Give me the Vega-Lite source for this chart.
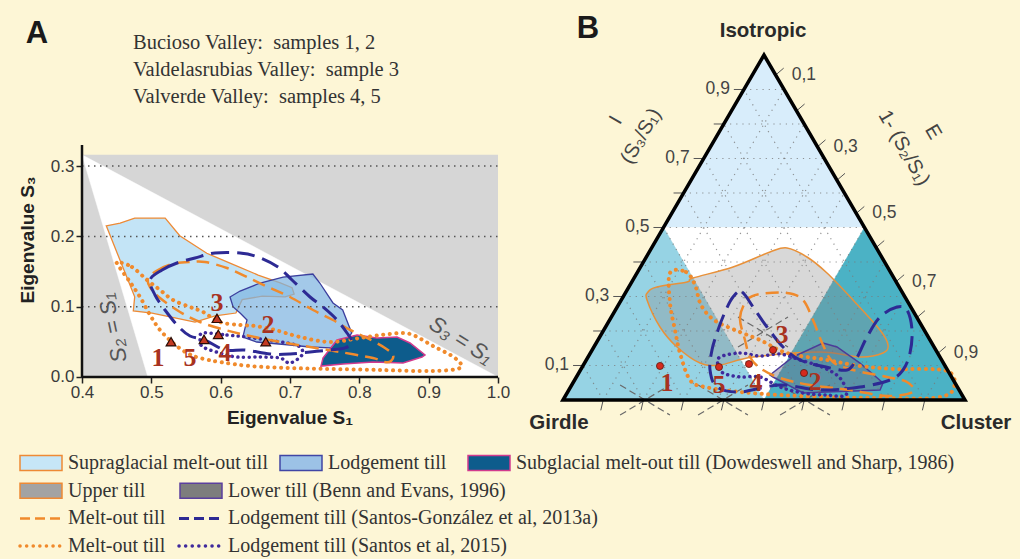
{
"$schema":"https://vega.github.io/schema/vega-lite/v6.json",
"width":1020,"height":559,
"autosize":{"type":"fit","contains":"padding"},
"padding":0,
"background":"#fdf6d6",
"config":{"view":{"stroke":null},"text":{"font":"Liberation Sans"},
 "axis":{"domain":false,"grid":false,"ticks":true,"tickSize":6,"tickWidth":1.5,"tickColor":"#222222","labelFont":"Liberation Sans","labelFontSize":17,"labelColor":"#3a3a3a","labelFlush":false,"labelOverlap":false,"title":null}},
"datasets":{
"aWhite":[{"i":0,"x":0.4,"y":0.316},{"i":1,"x":0.495,"y":0},{"i":2,"x":1.0,"y":0}],
"aSupra":[{"i":0,"x":0.435,"y":0.215},{"i":1,"x":0.455,"y":0.219},{"i":2,"x":0.476,"y":0.226},{"i":3,"x":0.52,"y":0.226},{"i":4,"x":0.541,"y":0.201},{"i":5,"x":0.58,"y":0.176},{"i":6,"x":0.616,"y":0.161},{"i":7,"x":0.654,"y":0.145},{"i":8,"x":0.686,"y":0.134},{"i":9,"x":0.703,"y":0.127},{"i":10,"x":0.706,"y":0.118},{"i":11,"x":0.693,"y":0.114},{"i":12,"x":0.66,"y":0.115},{"i":13,"x":0.631,"y":0.11},{"i":14,"x":0.622,"y":0.091},{"i":15,"x":0.592,"y":0.087},{"i":16,"x":0.563,"y":0.078},{"i":17,"x":0.534,"y":0.084},{"i":18,"x":0.501,"y":0.091},{"i":19,"x":0.474,"y":0.094},{"i":20,"x":0.476,"y":0.114}],
"aLodg":[{"i":0,"x":0.6135,"y":0.1138},{"i":1,"x":0.628,"y":0.1223},{"i":2,"x":0.657,"y":0.1337},{"i":3,"x":0.69,"y":0.1422},{"i":4,"x":0.733,"y":0.1465},{"i":5,"x":0.743,"y":0.1337},{"i":6,"x":0.762,"y":0.1053},{"i":7,"x":0.776,"y":0.0953},{"i":8,"x":0.789,"y":0.0626},{"i":9,"x":0.782,"y":0.0526},{"i":10,"x":0.758,"y":0.0413},{"i":11,"x":0.729,"y":0.0427},{"i":12,"x":0.7,"y":0.0455},{"i":13,"x":0.652,"y":0.0498},{"i":14,"x":0.632,"y":0.0569},{"i":15,"x":0.638,"y":0.0811},{"i":16,"x":0.628,"y":0.091},{"i":17,"x":0.618,"y":0.0996}],
"aSubg":[{"i":0,"x":0.7476,"y":0.027},{"i":1,"x":0.7678,"y":0.0526},{"i":2,"x":0.7967,"y":0.0597},{"i":3,"x":0.8255,"y":0.0555},{"i":4,"x":0.8544,"y":0.0569},{"i":5,"x":0.8731,"y":0.0484},{"i":6,"x":0.8947,"y":0.0313},{"i":7,"x":0.8904,"y":0.0284},{"i":8,"x":0.863,"y":0.0199},{"i":9,"x":0.8197,"y":0.0213},{"i":10,"x":0.7765,"y":0.0185},{"i":11,"x":0.7447,"y":0.0156}],
"aMeltDash":[{"i":0,"x":0.4952,"y":0.1408},{"i":1,"x":0.5096,"y":0.1522},{"i":2,"x":0.5298,"y":0.1607},{"i":3,"x":0.5558,"y":0.1636},{"i":4,"x":0.5774,"y":0.1636},{"i":5,"x":0.6091,"y":0.155},{"i":6,"x":0.638,"y":0.1422},{"i":7,"x":0.6683,"y":0.128},{"i":8,"x":0.7,"y":0.1138},{"i":9,"x":0.7332,"y":0.0953},{"i":10,"x":0.762,"y":0.0811},{"i":11,"x":0.7866,"y":0.0669},{"i":12,"x":0.8111,"y":0.0555},{"i":13,"x":0.837,"y":0.0413},{"i":14,"x":0.8486,"y":0.0313},{"i":15,"x":0.8457,"y":0.0228},{"i":16,"x":0.837,"y":0.0213},{"i":17,"x":0.8197,"y":0.027},{"i":18,"x":0.7721,"y":0.0356},{"i":19,"x":0.7289,"y":0.0427},{"i":20,"x":0.6856,"y":0.0498},{"i":21,"x":0.6423,"y":0.0583},{"i":22,"x":0.6063,"y":0.0669},{"i":23,"x":0.5702,"y":0.0782},{"i":24,"x":0.5414,"y":0.0925},{"i":25,"x":0.5125,"y":0.1124},{"i":26,"x":0.4981,"y":0.128}],
"aLodgDash":[{"i":0,"x":0.4981,"y":0.138},{"i":1,"x":0.5154,"y":0.1522},{"i":2,"x":0.537,"y":0.1622},{"i":3,"x":0.563,"y":0.1693},{"i":4,"x":0.5918,"y":0.1764},{"i":5,"x":0.6279,"y":0.1764},{"i":6,"x":0.6539,"y":0.1707},{"i":7,"x":0.6827,"y":0.1565},{"i":8,"x":0.7029,"y":0.138},{"i":9,"x":0.7289,"y":0.1138},{"i":10,"x":0.7476,"y":0.0996},{"i":11,"x":0.7678,"y":0.0811},{"i":12,"x":0.7822,"y":0.0626},{"i":13,"x":0.7894,"y":0.0498},{"i":14,"x":0.7793,"y":0.0413},{"i":15,"x":0.7577,"y":0.0384},{"i":16,"x":0.7289,"y":0.0356},{"i":17,"x":0.7,"y":0.0327},{"i":18,"x":0.6712,"y":0.0327},{"i":19,"x":0.6351,"y":0.0384},{"i":20,"x":0.6063,"y":0.0384},{"i":21,"x":0.5774,"y":0.0526},{"i":22,"x":0.5558,"y":0.0583},{"i":23,"x":0.5385,"y":0.0725},{"i":24,"x":0.5197,"y":0.0953},{"i":25,"x":0.5053,"y":0.1166}],
"aMeltDot":[{"i":0,"x":0.4519,"y":0.1636},{"i":1,"x":0.4721,"y":0.1565},{"i":2,"x":0.4938,"y":0.138},{"i":3,"x":0.5125,"y":0.1238},{"i":4,"x":0.5313,"y":0.1095},{"i":5,"x":0.5558,"y":0.0996},{"i":6,"x":0.5745,"y":0.0925},{"i":7,"x":0.599,"y":0.0782},{"i":8,"x":0.6279,"y":0.074},{"i":9,"x":0.6495,"y":0.0725},{"i":10,"x":0.6784,"y":0.0669},{"i":11,"x":0.7144,"y":0.0569},{"i":12,"x":0.7577,"y":0.0498},{"i":13,"x":0.801,"y":0.0555},{"i":14,"x":0.8442,"y":0.0612},{"i":15,"x":0.8731,"y":0.0612},{"i":16,"x":0.9063,"y":0.0441},{"i":17,"x":0.938,"y":0.027},{"i":18,"x":0.9452,"y":0.0128},{"i":19,"x":0.9019,"y":0.0085},{"i":20,"x":0.8298,"y":0.01},{"i":21,"x":0.7577,"y":0.0114},{"i":22,"x":0.7,"y":0.0128},{"i":23,"x":0.6423,"y":0.0156},{"i":24,"x":0.599,"y":0.0213},{"i":25,"x":0.5702,"y":0.027},{"i":26,"x":0.5514,"y":0.0341},{"i":27,"x":0.5313,"y":0.0484},{"i":28,"x":0.5125,"y":0.0669},{"i":29,"x":0.4981,"y":0.0882},{"i":30,"x":0.4837,"y":0.1138},{"i":31,"x":0.4692,"y":0.1351},{"i":32,"x":0.4519,"y":0.1593}],
"aLodgDot":[{"i":0,"x":0.5745,"y":0.0626},{"i":1,"x":0.6091,"y":0.0597},{"i":2,"x":0.638,"y":0.0569},{"i":3,"x":0.6668,"y":0.0526},{"i":4,"x":0.6957,"y":0.0484},{"i":5,"x":0.7144,"y":0.0427},{"i":6,"x":0.7173,"y":0.0313},{"i":7,"x":0.7,"y":0.0199},{"i":8,"x":0.6856,"y":0.027},{"i":9,"x":0.6567,"y":0.0284},{"i":10,"x":0.6236,"y":0.0284},{"i":11,"x":0.599,"y":0.0341},{"i":12,"x":0.5745,"y":0.0427},{"i":13,"x":0.5702,"y":0.0526}],
"aSamples":[{"n":"1","x":0.5284,"y":0.0502},{"n":"2","x":0.665,"y":0.0502},{"n":"3","x":0.5947,"y":0.0835},{"n":"4","x":0.5966,"y":0.0607},{"n":"5","x":0.576,"y":0.0536}],
"aSampleLabels":[{"n":"1","x":0.5096,"y":0.027},{"n":"2","x":0.6683,"y":0.074},{"n":"3","x":0.5947,"y":0.105},{"n":"4","x":0.6063,"y":0.034},{"n":"5","x":0.5558,"y":0.027}],
"bTop":[{"i":0,"x":0.5,"y":1},{"i":1,"x":0.25,"y":0.5},{"i":2,"x":0.75,"y":0.5}],
"bWhite":[{"i":0,"x":0.25,"y":0.5},{"i":1,"x":0.75,"y":0.5},{"i":2,"x":0.5,"y":0}],
"bLeft":[{"i":0,"x":0,"y":0},{"i":1,"x":0.25,"y":0.5},{"i":2,"x":0.5,"y":0}],
"bRight":[{"i":0,"x":0.5,"y":0},{"i":1,"x":0.75,"y":0.5},{"i":2,"x":1,"y":0}],
"bOutline":[{"i":0,"x":0,"y":0},{"i":1,"x":0.5,"y":1},{"i":2,"x":1,"y":0}],
"bGrid":[{"x":0.05,"y":0.1,"x2":0.95,"y2":0.1},{"x":0.1,"y":0.2,"x2":0.9,"y2":0.2},{"x":0.15,"y":0.3,"x2":0.85,"y2":0.3},{"x":0.2,"y":0.4,"x2":0.8,"y2":0.4},{"x":0.25,"y":0.5,"x2":0.75,"y2":0.5},{"x":0.3,"y":0.6,"x2":0.7,"y2":0.6},{"x":0.35,"y":0.7,"x2":0.65,"y2":0.7},{"x":0.4,"y":0.8,"x2":0.6,"y2":0.8},{"x":0.45,"y":0.9,"x2":0.55,"y2":0.9},
{"x":0.1,"y":0,"x2":0.55,"y2":0.9},{"x":0.2,"y":0,"x2":0.6,"y2":0.8},{"x":0.3,"y":0,"x2":0.65,"y2":0.7},{"x":0.4,"y":0,"x2":0.7,"y2":0.6},{"x":0.5,"y":0,"x2":0.75,"y2":0.5},{"x":0.6,"y":0,"x2":0.8,"y2":0.4},{"x":0.7,"y":0,"x2":0.85,"y2":0.3},{"x":0.8,"y":0,"x2":0.9,"y2":0.2},{"x":0.9,"y":0,"x2":0.95,"y2":0.1},
{"x":0.1,"y":0,"x2":0.05,"y2":0.1},{"x":0.2,"y":0,"x2":0.1,"y2":0.2},{"x":0.3,"y":0,"x2":0.15,"y2":0.3},{"x":0.4,"y":0,"x2":0.2,"y2":0.4},{"x":0.5,"y":0,"x2":0.25,"y2":0.5},{"x":0.6,"y":0,"x2":0.3,"y2":0.6},{"x":0.7,"y":0,"x2":0.35,"y2":0.7},{"x":0.8,"y":0,"x2":0.4,"y2":0.8},{"x":0.9,"y":0,"x2":0.45,"y2":0.9}],
"bTicks":[{"x":0.025,"y":0.1,"x2":0.05,"y2":0.1},{"x":0.075,"y":0.2,"x2":0.1,"y2":0.2},{"x":0.125,"y":0.3,"x2":0.15,"y2":0.3},{"x":0.175,"y":0.4,"x2":0.2,"y2":0.4},{"x":0.225,"y":0.5,"x2":0.25,"y2":0.5},{"x":0.275,"y":0.6,"x2":0.3,"y2":0.6},{"x":0.325,"y":0.7,"x2":0.35,"y2":0.7},{"x":0.375,"y":0.8,"x2":0.4,"y2":0.8},{"x":0.425,"y":0.9,"x2":0.45,"y2":0.9},
{"x":0.529,"y":0.942,"x2":0.549,"y2":0.962},{"x":0.581,"y":0.838,"x2":0.601,"y2":0.858},{"x":0.633,"y":0.734,"x2":0.653,"y2":0.754},{"x":0.6815,"y":0.637,"x2":0.7015,"y2":0.657},{"x":0.7295,"y":0.541,"x2":0.7495,"y2":0.561},{"x":0.779,"y":0.442,"x2":0.799,"y2":0.462},{"x":0.8285,"y":0.343,"x2":0.8485,"y2":0.363},{"x":0.8805,"y":0.239,"x2":0.9005,"y2":0.259},{"x":0.9325,"y":0.135,"x2":0.9525,"y2":0.155},
{"x":0.1,"y":0,"x2":0.094,"y2":-0.03},{"x":0.2,"y":0,"x2":0.194,"y2":-0.03},{"x":0.3,"y":0,"x2":0.294,"y2":-0.03},{"x":0.4,"y":0,"x2":0.394,"y2":-0.03},{"x":0.5,"y":0,"x2":0.494,"y2":-0.03},{"x":0.6,"y":0,"x2":0.594,"y2":-0.03},{"x":0.7,"y":0,"x2":0.694,"y2":-0.03},{"x":0.8,"y":0,"x2":0.794,"y2":-0.03},{"x":0.9,"y":0,"x2":0.894,"y2":-0.03}],
"bUpper":[{"i":0,"x":0.2114,"y":0.313},{"i":1,"x":0.2338,"y":0.3275},{"i":2,"x":0.3085,"y":0.342},{"i":3,"x":0.3234,"y":0.3536},{"i":4,"x":0.4229,"y":0.3855},{"i":5,"x":0.5149,"y":0.429},{"i":6,"x":0.5572,"y":0.4406},{"i":7,"x":0.607,"y":0.4145},{"i":8,"x":0.6567,"y":0.3681},{"i":9,"x":0.7214,"y":0.2899},{"i":10,"x":0.7886,"y":0.2029},{"i":11,"x":0.8085,"y":0.1594},{"i":12,"x":0.796,"y":0.1362},{"i":13,"x":0.7388,"y":0.1246},{"i":14,"x":0.6393,"y":0.1391},{"i":15,"x":0.4726,"y":0.1246},{"i":16,"x":0.3905,"y":0.1014},{"i":17,"x":0.3408,"y":0.1072},{"i":18,"x":0.2836,"y":0.1536},{"i":19,"x":0.2413,"y":0.2116},{"i":20,"x":0.209,"y":0.2899}],
"bLower":[{"i":0,"x":0.5149,"y":0.0725},{"i":1,"x":0.5721,"y":0.1246},{"i":2,"x":0.6468,"y":0.1652},{"i":3,"x":0.6816,"y":0.1536},{"i":4,"x":0.7388,"y":0.1072},{"i":5,"x":0.796,"y":0.0493},{"i":6,"x":0.7886,"y":0.029},{"i":7,"x":0.6567,"y":0.0232},{"i":8,"x":0.597,"y":0.0203},{"i":9,"x":0.5224,"y":0.0667}],
"bMeltDash":[{"i":0,"x":0.4527,"y":0.1739},{"i":1,"x":0.4403,"y":0.2377},{"i":2,"x":0.4577,"y":0.2899},{"i":3,"x":0.49,"y":0.3072},{"i":4,"x":0.5572,"y":0.3101},{"i":5,"x":0.597,"y":0.2899},{"i":6,"x":0.6219,"y":0.2319},{"i":7,"x":0.6468,"y":0.1594},{"i":8,"x":0.6716,"y":0.1101},{"i":9,"x":0.7214,"y":0.087},{"i":10,"x":0.806,"y":0.0667},{"i":11,"x":0.8557,"y":0.0522},{"i":12,"x":0.8706,"y":0.0232},{"i":13,"x":0.806,"y":0.0116},{"i":14,"x":0.7139,"y":0.029},{"i":15,"x":0.6144,"y":0.0435},{"i":16,"x":0.5398,"y":0.0638},{"i":17,"x":0.49,"y":0.0928},{"i":18,"x":0.4652,"y":0.1246}],
"bLodgDash":[{"i":0,"x":0.4229,"y":0.2986},{"i":1,"x":0.4453,"y":0.313},{"i":2,"x":0.4776,"y":0.2609},{"i":3,"x":0.5075,"y":0.2116},{"i":4,"x":0.5473,"y":0.1536},{"i":5,"x":0.5896,"y":0.1159},{"i":6,"x":0.6542,"y":0.0957},{"i":7,"x":0.7065,"y":0.087},{"i":8,"x":0.73,"y":0.12},{"i":9,"x":0.7562,"y":0.1826},{"i":10,"x":0.7886,"y":0.2406},{"i":11,"x":0.8308,"y":0.2696},{"i":12,"x":0.8557,"y":0.2609},{"i":13,"x":0.8682,"y":0.2029},{"i":14,"x":0.8632,"y":0.1362},{"i":15,"x":0.8458,"y":0.087},{"i":16,"x":0.8134,"y":0.058},{"i":17,"x":0.7388,"y":0.0377},{"i":18,"x":0.6393,"y":0.029},{"i":19,"x":0.5398,"y":0.0435},{"i":20,"x":0.4403,"y":0.0232},{"i":21,"x":0.3831,"y":0.0377},{"i":22,"x":0.3657,"y":0.087},{"i":23,"x":0.3706,"y":0.1449},{"i":24,"x":0.3856,"y":0.2029},{"i":25,"x":0.403,"y":0.2551}],
"bMeltDot":[{"i":0,"x":0.2662,"y":0.3681},{"i":1,"x":0.306,"y":0.371},{"i":2,"x":0.3284,"y":0.3333},{"i":3,"x":0.3433,"y":0.2754},{"i":4,"x":0.3756,"y":0.2319},{"i":5,"x":0.4279,"y":0.2029},{"i":6,"x":0.49,"y":0.1739},{"i":7,"x":0.5572,"y":0.1362},{"i":8,"x":0.6567,"y":0.1159},{"i":9,"x":0.7388,"y":0.0986},{"i":10,"x":0.8209,"y":0.0899},{"i":11,"x":0.9552,"y":0.0841},{"i":12,"x":0.9701,"y":0.029},{"i":13,"x":0.9204,"y":0.0058},{"i":14,"x":0.7886,"y":0.0058},{"i":15,"x":0.6567,"y":0.0087},{"i":16,"x":0.5398,"y":0.0145},{"i":17,"x":0.4403,"y":0.0232},{"i":18,"x":0.3532,"y":0.0377},{"i":19,"x":0.3159,"y":0.058},{"i":20,"x":0.291,"y":0.1362},{"i":21,"x":0.2786,"y":0.2029},{"i":22,"x":0.2662,"y":0.2812}],
"bLodgDot":[{"i":0,"x":0.3905,"y":0.1246},{"i":1,"x":0.4403,"y":0.1362},{"i":2,"x":0.49,"y":0.1275},{"i":3,"x":0.5398,"y":0.1333},{"i":4,"x":0.5896,"y":0.1159},{"i":5,"x":0.6443,"y":0.0957},{"i":6,"x":0.6891,"y":0.0638},{"i":7,"x":0.704,"y":0.0145},{"i":8,"x":0.6542,"y":0.0145},{"i":9,"x":0.597,"y":0.0203},{"i":10,"x":0.5398,"y":0.0377},{"i":11,"x":0.49,"y":0.0667},{"i":12,"x":0.4403,"y":0.0667},{"i":13,"x":0.398,"y":0.0783},{"i":14,"x":0.3856,"y":0.1014}],
"bCross":[{"x":0.142,"y":0.0435,"x2":0.266,"y2":-0.0435},{"x":0.142,"y":-0.0435,"x2":0.266,"y2":0.0435},{"x":0.336,"y":0.0435,"x2":0.46,"y2":-0.0435},{"x":0.336,"y":-0.0435,"x2":0.46,"y2":0.0435},{"x":0.54,"y":0.0435,"x2":0.664,"y2":-0.0435},{"x":0.54,"y":-0.0435,"x2":0.664,"y2":0.0435},{"x":0.4353,"y":0.2405,"x2":0.5597,"y2":0.1535},{"x":0.4353,"y":0.1535,"x2":0.5597,"y2":0.2405}],
"bSamples":[{"n":"1","x":0.2413,"y":0.0986},{"n":"5","x":0.3881,"y":0.0957},{"n":"4","x":0.4627,"y":0.1043},{"n":"3","x":0.5224,"y":0.1449},{"n":"2","x":0.5995,"y":0.0783}],
"bSampleLabels":[{"n":"1","x":0.2587,"y":0.0493},{"n":"5","x":0.3881,"y":0.0435},{"n":"4","x":0.4801,"y":0.0493},{"n":"3","x":0.5448,"y":0.1884},{"n":"2","x":0.6269,"y":0.0522}],
"leg":[{"k":"Supraglacial","row":1,"c":41},{"k":"Lodgement","row":1,"c":301},{"k":"Subglacial","row":1,"c":489},{"k":"Upper","row":2,"c":41},{"k":"Lower","row":2,"c":201},{"k":"MeltDash","row":3,"c":41},{"k":"LodgDash","row":3,"c":200},{"k":"MeltDot","row":4,"c":41},{"k":"LodgDot","row":4,"c":200}],
"legText":[{"row":1,"c":68,"t":"Supraglacial melt-out till"},{"row":1,"c":328,"t":"Lodgement till"},{"row":1,"c":516,"t":"Subglacial melt-out till (Dowdeswell and Sharp, 1986)"},{"row":2,"c":68,"t":"Upper till"},{"row":2,"c":228,"t":"Lower till (Benn and Evans, 1996)"},{"row":3,"c":68,"t":"Melt-out till"},{"row":3,"c":228,"t":"Lodgement till (Santos-González et al, 2013a)"},{"row":4,"c":68,"t":"Melt-out till"},{"row":4,"c":228,"t":"Lodgement till (Santos et al, 2015)"}]
},
"layer":[
{"encoding":{
 "x":{"field":"x","type":"quantitative","scale":{"domain":[0.28173,1.75289],"nice":false,"zero":false},"axis":{"orient":"bottom","offset":-182,"values":[0.4,0.5,0.6,0.7,0.8,0.9,1.0],"format":".1f","labelPadding":1}},
 "y":{"field":"y","type":"quantitative","scale":{"domain":[-0.25889,0.53627],"nice":false,"zero":false},"axis":{"orient":"left","offset":-82,"values":[0,0.1,0.2,0.3],"format":".1f","labelPadding":2}}},
 "layer":[
{"data":{"values":[{"x":0.4,"x2":1.0,"y":0,"y2":0.316}]},"mark":{"type":"rect","fill":"#d6d6d6"},
 "encoding":{"x2":{"field":"x2"},"y2":{"field":"y2"}}},
{"data":{"name":"aWhite"},"mark":{"type":"line","interpolate":"linear-closed","fill":"#ffffff","stroke":"#ffffff","strokeWidth":0.5},
 "encoding":{"order":{"field":"i","type":"quantitative"}}},
{"data":{"name":"aSupra"},"mark":{"type":"line","interpolate":"linear-closed","fill":"#c3e4f6","stroke":"#ee8a35","strokeWidth":1.3},
 "encoding":{"order":{"field":"i","type":"quantitative"}}},
{"data":{"name":"aLodg"},"mark":{"type":"line","interpolate":"linear-closed","fill":"#80b4e0","fillOpacity":0.72,"stroke":"#3c3f9e","strokeWidth":1.3},
 "encoding":{"order":{"field":"i","type":"quantitative"}}},
{"data":{"name":"aSubg"},"mark":{"type":"line","interpolate":"linear-closed","fill":"#0d5c8c","stroke":"#d23a8e","strokeWidth":1.5},
 "encoding":{"order":{"field":"i","type":"quantitative"}}},
{"data":{"values":[{"x":0.4,"x2":1.0,"y":0.1},{"x":0.4,"x2":1.0,"y":0.2},{"x":0.4,"x2":1.0,"y":0.3}]},"mark":{"type":"rule","stroke":"#555555","strokeWidth":1.5,"strokeDash":[1.5,4.5]},
 "encoding":{"x2":{"field":"x2"}}},
{"data":{"values":[{"x":0.4,"x2":0.4,"y":0,"y2":0.33},{"x":0.4,"x2":1.0,"y":0,"y2":0}]},"mark":{"type":"rule","stroke":"#111111","strokeWidth":2.5},
 "encoding":{"x2":{"field":"x2"},"y2":{"field":"y2"}}},
{"data":{"name":"aMeltDot"},"mark":{"type":"line","interpolate":"cardinal-closed","stroke":"#f08a2c","strokeWidth":4,"strokeCap":"round","strokeDash":[0.1,6.5]},
 "encoding":{"order":{"field":"i","type":"quantitative"}}},
{"data":{"name":"aLodgDot"},"mark":{"type":"line","interpolate":"cardinal-closed","stroke":"#3f2a9c","strokeWidth":3.5,"strokeCap":"round","strokeDash":[0.1,5.5]},
 "encoding":{"order":{"field":"i","type":"quantitative"}}},
{"data":{"name":"aMeltDash"},"mark":{"type":"line","interpolate":"cardinal-closed","stroke":"#f08a2c","strokeWidth":2.5,"strokeDash":[13,7]},
 "encoding":{"order":{"field":"i","type":"quantitative"}}},
{"data":{"name":"aLodgDash"},"mark":{"type":"line","interpolate":"cardinal-closed","stroke":"#2d2a94","strokeWidth":3,"strokeDash":[18,8]},
 "encoding":{"order":{"field":"i","type":"quantitative"}}},
{"data":{"name":"aSamples"},"mark":{"type":"point","shape":"triangle-up","size":95,"filled":true,"fill":"#c43a22","stroke":"#2a0d05","strokeWidth":1.2,"opacity":1}},
{"data":{"name":"aSampleLabels"},"mark":{"type":"text","font":"Liberation Serif","fontWeight":"bold","fontSize":26,"fill":"#a83220","align":"center","baseline":"middle"},
 "encoding":{"text":{"field":"n"}}},
{"data":{"values":[{"t":"S₂ = S₁","x":0.4447,"y":0.0697}]},"mark":{"type":"text","fontSize":22,"fontStyle":"italic","fill":"#555555","angle":258,"align":"center","baseline":"middle"},
 "encoding":{"text":{"field":"t"}}},
{"data":{"values":[{"t":"S₃ = S₁","x":0.9467,"y":0.0526}]},"mark":{"type":"text","fontSize":22,"fontStyle":"italic","fill":"#555555","angle":32,"align":"center","baseline":"middle"},
 "encoding":{"text":{"field":"t"}}},
{"data":{"values":[{"t":"Eigenvalue S₁","x":0.7,"y":-0.0583}]},"mark":{"type":"text","fontSize":19,"fontWeight":"bold","fill":"#222222","align":"center","baseline":"middle"},
 "encoding":{"text":{"field":"t"}}},
{"data":{"values":[{"t":"Eigenvalue S₃","x":0.3217,"y":0.195}]},"mark":{"type":"text","fontSize":19,"fontWeight":"bold","fill":"#222222","angle":270,"align":"center","baseline":"middle"},
 "encoding":{"text":{"field":"t"}}},
{"data":{"values":[{"t":"Bucioso Valley:\u00a0 samples 1, 2","x":0.4736,"y":0.4751},{"t":"Valdelasrubias Valley:\u00a0 sample 3","x":0.4736,"y":0.4367},{"t":"Valverde Valley:\u00a0 samples 4, 5","x":0.4736,"y":0.3983}]},"mark":{"type":"text","font":"Liberation Serif","fontSize":20.5,"fill":"#333333","align":"left","baseline":"middle"},
 "encoding":{"text":{"field":"t"}}},
{"data":{"values":[{"t":"A","x":0.3351,"y":0.4879}]},"mark":{"type":"text","fontSize":31,"fontWeight":"bold","fill":"#1a1a1a","align":"center","baseline":"middle"},
 "encoding":{"text":{"field":"t"}}}
]},
{"encoding":{
 "x":{"field":"x","type":"quantitative","scale":{"domain":[-1.4005,1.13682],"nice":false,"zero":false},"axis":null},
 "y":{"field":"y","type":"quantitative","scale":{"domain":[-0.46087,1.15942],"nice":false,"zero":false},"axis":null}},
 "layer":[
{"data":{"name":"bTop"},"mark":{"type":"line","interpolate":"linear-closed","fill":"#d8edfb","stroke":"#d8edfb","strokeWidth":0.5},
 "encoding":{"order":{"field":"i","type":"quantitative"}}},
{"data":{"name":"bWhite"},"mark":{"type":"line","interpolate":"linear-closed","fill":"#ffffff","stroke":"#ffffff","strokeWidth":0.5},
 "encoding":{"order":{"field":"i","type":"quantitative"}}},
{"data":{"name":"bLeft"},"mark":{"type":"line","interpolate":"linear-closed","fill":"#96d3e4","stroke":"#96d3e4","strokeWidth":0.5},
 "encoding":{"order":{"field":"i","type":"quantitative"}}},
{"data":{"name":"bRight"},"mark":{"type":"line","interpolate":"linear-closed","fill":"#4bb2c5","stroke":"#4bb2c5","strokeWidth":0.5},
 "encoding":{"order":{"field":"i","type":"quantitative"}}},
{"data":{"name":"bGrid"},"mark":{"type":"rule","stroke":"#7a7a7a","strokeWidth":1.2,"strokeDash":[1.2,5],"opacity":0.8},
 "encoding":{"x2":{"field":"x2"},"y2":{"field":"y2"}}},
{"data":{"name":"bTicks"},"mark":{"type":"rule","stroke":"#555555","strokeWidth":1},
 "encoding":{"x2":{"field":"x2"},"y2":{"field":"y2"}}},
{"data":{"name":"bUpper"},"mark":{"type":"line","interpolate":"cardinal-closed","fill":"#8a8a8a","fillOpacity":0.33,"stroke":"#e8913a","strokeWidth":1.5},
 "encoding":{"order":{"field":"i","type":"quantitative"}}},
{"data":{"name":"bLower"},"mark":{"type":"line","interpolate":"linear-closed","fill":"#6a6a80","fillOpacity":0.45,"stroke":"#4b3c99","strokeWidth":1.5},
 "encoding":{"order":{"field":"i","type":"quantitative"}}},
{"data":{"name":"bCross"},"mark":{"type":"rule","stroke":"#6a6a6a","strokeWidth":1.2,"strokeDash":[7,4]},
 "encoding":{"x2":{"field":"x2"},"y2":{"field":"y2"}}},
{"data":{"name":"bMeltDot"},"mark":{"type":"line","interpolate":"cardinal-closed","stroke":"#f08a2c","strokeWidth":4,"strokeCap":"round","strokeDash":[0.1,6.5]},
 "encoding":{"order":{"field":"i","type":"quantitative"}}},
{"data":{"name":"bLodgDot"},"mark":{"type":"line","interpolate":"cardinal-closed","stroke":"#3f2a9c","strokeWidth":3.5,"strokeCap":"round","strokeDash":[0.1,5.5]},
 "encoding":{"order":{"field":"i","type":"quantitative"}}},
{"data":{"name":"bMeltDash"},"mark":{"type":"line","interpolate":"cardinal-closed","stroke":"#f08a2c","strokeWidth":2.5,"strokeDash":[13,7]},
 "encoding":{"order":{"field":"i","type":"quantitative"}}},
{"data":{"name":"bLodgDash"},"mark":{"type":"line","interpolate":"cardinal-closed","stroke":"#2d2a94","strokeWidth":3,"strokeDash":[18,8]},
 "encoding":{"order":{"field":"i","type":"quantitative"}}},
{"data":{"name":"bOutline"},"mark":{"type":"line","interpolate":"linear-closed","stroke":"#000000","strokeWidth":3.5,"strokeJoin":"miter"},
 "encoding":{"order":{"field":"i","type":"quantitative"}}},
{"data":{"name":"bSamples"},"mark":{"type":"circle","size":50,"fill":"#d62a1e","stroke":"#5a1a10","strokeWidth":0.8,"opacity":1}},
{"data":{"name":"bSampleLabels"},"mark":{"type":"text","font":"Liberation Serif","fontWeight":"bold","fontSize":26,"fill":"#a83220","align":"center","baseline":"middle"},
 "encoding":{"text":{"field":"n"}}},
{"data":{"values":[{"t":"0,9","x":0.45,"y":0.9},{"t":"0,7","x":0.35,"y":0.7},{"t":"0,5","x":0.25,"y":0.5},{"t":"0,3","x":0.15,"y":0.3},{"t":"0,1","x":0.05,"y":0.1}]},"mark":{"type":"text","fontSize":17.5,"fill":"#444444","align":"right","baseline":"middle","dx":-14},
 "encoding":{"text":{"field":"t"}}},
{"data":{"values":[{"t":"0,1","x":0.529,"y":0.942},{"t":"0,3","x":0.633,"y":0.734},{"t":"0,5","x":0.7295,"y":0.541},{"t":"0,7","x":0.8285,"y":0.343},{"t":"0,9","x":0.9325,"y":0.135}]},"mark":{"type":"text","fontSize":17.5,"fill":"#444444","align":"left","baseline":"middle","dx":16},
 "encoding":{"text":{"field":"t"}}},
{"data":{"values":[{"t":"I","x":0.1318,"y":0.8116},{"t":"(S₃/S₁)","x":0.194,"y":0.765}]},"mark":{"type":"text","fontSize":20,"fill":"#444444","align":"center","baseline":"middle","angle":300},
 "encoding":{"text":{"field":"t"}}},
{"data":{"values":[{"t":"E","x":0.9204,"y":0.7768},{"t":"1- (S₂/S₁)","x":0.8483,"y":0.7304}]},"mark":{"type":"text","fontSize":20,"fill":"#444444","align":"center","baseline":"middle","angle":60},
 "encoding":{"text":{"field":"t"}}},
{"data":{"values":[{"t":"Isotropic","x":0.4975,"y":1.0696},{"t":"Girdle","x":-0.00995,"y":-0.0667},{"t":"Cluster","x":1.0274,"y":-0.0667}]},"mark":{"type":"text","fontSize":20.5,"fontWeight":"bold","fill":"#2a2a2a","align":"center","baseline":"middle"},
 "encoding":{"text":{"field":"t"}}},
{"data":{"values":[{"t":"B","x":0.0622,"y":1.0754}]},"mark":{"type":"text","fontSize":31,"fontWeight":"bold","fill":"#1a1a1a","align":"center","baseline":"middle"},
 "encoding":{"text":{"field":"t"}}}
]},
{"encoding":{
 "x":{"field":"c","type":"quantitative","scale":{"domain":[0,1020],"nice":false,"zero":false},"axis":null},
 "y":{"field":"row","type":"quantitative","scale":{"domain":[-15.733,4.467],"reverse":true,"nice":false,"zero":false},"axis":null}},
 "layer":[
{"data":{"name":"leg"},"transform":[{"filter":"indexof(['Supraglacial','Lodgement','Subglacial','Upper','Lower'], datum.k) >= 0"}],
 "mark":{"type":"point","shape":"M-1.4,-0.5H1.4V0.5H-1.4Z","size":900,"filled":true,"strokeWidth":1.5,"opacity":1},
 "encoding":{
 "fill":{"field":"k","type":"nominal","scale":{"domain":["Supraglacial","Lodgement","Subglacial","Upper","Lower"],"range":["#c6e6f7","#9cc2e6","#0d5c8c","#a3a3a3","#7d7d7d"]},"legend":null},
 "stroke":{"field":"k","type":"nominal","scale":{"domain":["Supraglacial","Lodgement","Subglacial","Upper","Lower"],"range":["#ee8a35","#4046a5","#d23a8e","#ee8a35","#5b3f9e"]},"legend":null}}},
{"data":{"name":"leg"},"transform":[{"filter":"datum.k == 'MeltDash'"}],
 "mark":{"type":"point","shape":"M-1.4,0H1.4","size":900,"filled":false,"stroke":"#f08a2c","strokeWidth":2.5,"strokeDash":[10,5],"opacity":1}},
{"data":{"name":"leg"},"transform":[{"filter":"datum.k == 'LodgDash'"}],
 "mark":{"type":"point","shape":"M-1.4,0H1.4","size":900,"filled":false,"stroke":"#2d2a94","strokeWidth":3,"strokeDash":[10,5],"opacity":1}},
{"data":{"name":"leg"},"transform":[{"filter":"datum.k == 'MeltDot'"}],
 "mark":{"type":"point","shape":"M-1.4,0H1.4","size":900,"filled":false,"stroke":"#f08a2c","strokeWidth":3.5,"strokeCap":"round","strokeDash":[0.1,6.5],"opacity":1}},
{"data":{"name":"leg"},"transform":[{"filter":"datum.k == 'LodgDot'"}],
 "mark":{"type":"point","shape":"M-1.4,0H1.4","size":900,"filled":false,"stroke":"#3f2a9c","strokeWidth":3.5,"strokeCap":"round","strokeDash":[0.1,6.5],"opacity":1}},
{"data":{"name":"legText"},"mark":{"type":"text","font":"Liberation Serif","fontSize":20,"fill":"#333333","align":"left","baseline":"middle"},
 "encoding":{"text":{"field":"t"}}}
]}
],
"resolve":{"scale":{"x":"independent","y":"independent"}}
}
